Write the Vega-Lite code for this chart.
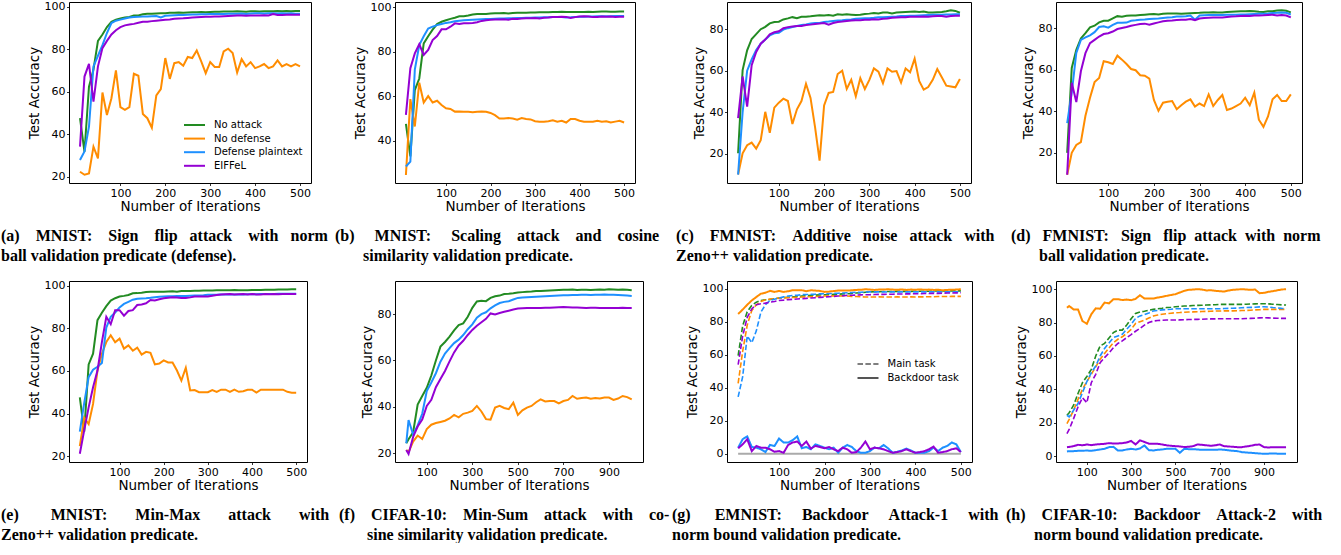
{
"$schema": "https://vega.github.io/schema/vega-lite/v6.json",
"background": "white",
"padding": {"left": 0, "top": 0, "right": 0, "bottom": 0},
"autosize": {"type": "pad"},
"columns": 4,
"spacing": {"row": 98, "column": 84},
"align": "none",
"bounds": "flush",
"datasets": {
"a": [
{"x":10,"No attack":47.6,"No defense":22.4,"Defense plaintext":27.9,"EIFFeL":34.2},
{"x":20,"No attack":31.8,"No defense":21.0,"Defense plaintext":32.0,"EIFFeL":67.2},
{"x":30,"No attack":62.5,"No defense":21.6,"Defense plaintext":43.6,"EIFFeL":73.2},
{"x":40,"No attack":70.5,"No defense":34.2,"Defense plaintext":72.0,"EIFFeL":55.4},
{"x":50,"No attack":84.0,"No defense":28.7,"Defense plaintext":77.0,"EIFFeL":72.0},
{"x":60,"No attack":87.0,"No defense":59.7,"Defense plaintext":82.0,"EIFFeL":80.6},
{"x":70,"No attack":90.5,"No defense":49.1,"Defense plaintext":87.7,"EIFFeL":84.0},
{"x":80,"No attack":93.0,"No defense":57.0,"Defense plaintext":92.4,"EIFFeL":87.0},
{"x":90,"No attack":94.0,"No defense":70.1,"Defense plaintext":93.5,"EIFFeL":89.0},
{"x":100,"No attack":94.5,"No defense":52.8,"Defense plaintext":94.0,"EIFFeL":90.5},
{"x":110,"No attack":95.0,"No defense":51.5,"Defense plaintext":94.5,"EIFFeL":91.3},
{"x":120,"No attack":95.3,"No defense":52.8,"Defense plaintext":95.0,"EIFFeL":91.7},
{"x":130,"No attack":96.0,"No defense":68.5,"Defense plaintext":95.2,"EIFFeL":92.0},
{"x":140,"No attack":96.0,"No defense":67.6,"Defense plaintext":95.3,"EIFFeL":92.5},
{"x":150,"No attack":96.5,"No defense":49.6,"Defense plaintext":95.5,"EIFFeL":93.0},
{"x":160,"No attack":96.8,"No defense":47.6,"Defense plaintext":95.5,"EIFFeL":93.0},
{"x":170,"No attack":96.8,"No defense":43.1,"Defense plaintext":95.6,"EIFFeL":93.3},
{"x":180,"No attack":96.9,"No defense":58.3,"Defense plaintext":95.7,"EIFFeL":93.5},
{"x":190,"No attack":97.0,"No defense":61.3,"Defense plaintext":95.0,"EIFFeL":93.7},
{"x":200,"No attack":97.0,"No defense":75.9,"Defense plaintext":95.8,"EIFFeL":93.9},
{"x":210,"No attack":97.2,"No defense":66.1,"Defense plaintext":96.0,"EIFFeL":94.1},
{"x":220,"No attack":97.2,"No defense":73.5,"Defense plaintext":96.1,"EIFFeL":94.4},
{"x":230,"No attack":97.3,"No defense":74.0,"Defense plaintext":96.2,"EIFFeL":94.5},
{"x":240,"No attack":97.2,"No defense":72.3,"Defense plaintext":96.2,"EIFFeL":94.6},
{"x":250,"No attack":97.4,"No defense":76.4,"Defense plaintext":96.3,"EIFFeL":94.8},
{"x":260,"No attack":97.5,"No defense":75.9,"Defense plaintext":96.4,"EIFFeL":95.0},
{"x":270,"No attack":97.5,"No defense":79.5,"Defense plaintext":96.4,"EIFFeL":95.1},
{"x":280,"No attack":97.6,"No defense":74.3,"Defense plaintext":96.5,"EIFFeL":95.2},
{"x":290,"No attack":97.5,"No defense":68.8,"Defense plaintext":96.5,"EIFFeL":95.3},
{"x":300,"No attack":97.6,"No defense":74.0,"Defense plaintext":96.6,"EIFFeL":95.4},
{"x":310,"No attack":97.7,"No defense":71.7,"Defense plaintext":96.6,"EIFFeL":95.5},
{"x":320,"No attack":97.7,"No defense":71.7,"Defense plaintext":96.7,"EIFFeL":95.5},
{"x":330,"No attack":97.8,"No defense":79.0,"Defense plaintext":96.7,"EIFFeL":95.6},
{"x":340,"No attack":97.8,"No defense":80.3,"Defense plaintext":96.8,"EIFFeL":95.7},
{"x":350,"No attack":97.8,"No defense":78.3,"Defense plaintext":96.8,"EIFFeL":95.8},
{"x":360,"No attack":97.9,"No defense":69.1,"Defense plaintext":96.8,"EIFFeL":95.9},
{"x":370,"No attack":97.8,"No defense":75.4,"Defense plaintext":96.9,"EIFFeL":95.9},
{"x":380,"No attack":97.7,"No defense":72.0,"Defense plaintext":96.7,"EIFFeL":95.8},
{"x":390,"No attack":97.9,"No defense":74.0,"Defense plaintext":96.9,"EIFFeL":96.0},
{"x":400,"No attack":97.9,"No defense":71.2,"Defense plaintext":97.0,"EIFFeL":96.0},
{"x":410,"No attack":97.8,"No defense":72.0,"Defense plaintext":97.0,"EIFFeL":96.0},
{"x":420,"No attack":98.0,"No defense":73.1,"Defense plaintext":96.9,"EIFFeL":96.1},
{"x":430,"No attack":97.9,"No defense":71.2,"Defense plaintext":97.0,"EIFFeL":96.0},
{"x":440,"No attack":98.0,"No defense":72.0,"Defense plaintext":97.0,"EIFFeL":96.6},
{"x":450,"No attack":98.1,"No defense":74.8,"Defense plaintext":96.9,"EIFFeL":96.2},
{"x":460,"No attack":98.0,"No defense":72.0,"Defense plaintext":97.0,"EIFFeL":96.2},
{"x":470,"No attack":98.1,"No defense":73.1,"Defense plaintext":96.9,"EIFFeL":96.3},
{"x":480,"No attack":98.0,"No defense":72.0,"Defense plaintext":97.0,"EIFFeL":96.3},
{"x":490,"No attack":98.1,"No defense":73.1,"Defense plaintext":96.8,"EIFFeL":96.3},
{"x":500,"No attack":98.1,"No defense":72.0,"Defense plaintext":96.8,"EIFFeL":96.3}
],
"b": [
{"x":10,"No attack":47.6,"No defense":24.6,"Defense plaintext":28.4,"EIFFeL":51.6},
{"x":20,"No attack":33.0,"No defense":58.7,"Defense plaintext":30.6,"EIFFeL":72.6},
{"x":30,"No attack":62.8,"No defense":46.4,"Defense plaintext":72.0,"EIFFeL":79.3},
{"x":40,"No attack":68.0,"No defense":66.1,"Defense plaintext":83.0,"EIFFeL":83.4},
{"x":50,"No attack":83.8,"No defense":57.2,"Defense plaintext":87.0,"EIFFeL":78.6},
{"x":60,"No attack":87.0,"No defense":60.1,"Defense plaintext":90.5,"EIFFeL":80.8},
{"x":70,"No attack":90.0,"No defense":57.2,"Defense plaintext":91.3,"EIFFeL":85.3},
{"x":80,"No attack":92.5,"No defense":58.0,"Defense plaintext":92.0,"EIFFeL":87.1},
{"x":90,"No attack":93.5,"No defense":56.1,"Defense plaintext":92.5,"EIFFeL":90.1},
{"x":100,"No attack":94.2,"No defense":54.6,"Defense plaintext":93.0,"EIFFeL":90.1},
{"x":110,"No attack":94.8,"No defense":54.3,"Defense plaintext":93.3,"EIFFeL":91.3},
{"x":120,"No attack":95.3,"No defense":53.1,"Defense plaintext":93.7,"EIFFeL":92.8},
{"x":130,"No attack":96.0,"No defense":53.2,"Defense plaintext":94.0,"EIFFeL":92.5},
{"x":140,"No attack":96.0,"No defense":53.0,"Defense plaintext":94.2,"EIFFeL":92.8},
{"x":150,"No attack":96.3,"No defense":53.0,"Defense plaintext":94.3,"EIFFeL":92.8},
{"x":160,"No attack":96.8,"No defense":52.8,"Defense plaintext":94.4,"EIFFeL":93.0},
{"x":170,"No attack":97.0,"No defense":53.0,"Defense plaintext":94.5,"EIFFeL":93.3},
{"x":180,"No attack":97.0,"No defense":53.2,"Defense plaintext":94.6,"EIFFeL":93.9},
{"x":190,"No attack":97.0,"No defense":53.0,"Defense plaintext":94.7,"EIFFeL":94.2},
{"x":200,"No attack":97.2,"No defense":52.5,"Defense plaintext":94.8,"EIFFeL":94.4},
{"x":210,"No attack":97.3,"No defense":51.5,"Defense plaintext":94.9,"EIFFeL":94.5},
{"x":220,"No attack":97.3,"No defense":50.0,"Defense plaintext":95.0,"EIFFeL":94.5},
{"x":230,"No attack":97.4,"No defense":50.0,"Defense plaintext":95.0,"EIFFeL":94.6},
{"x":240,"No attack":97.2,"No defense":50.2,"Defense plaintext":95.1,"EIFFeL":94.4},
{"x":250,"No attack":97.5,"No defense":50.0,"Defense plaintext":95.1,"EIFFeL":94.9},
{"x":260,"No attack":97.6,"No defense":49.5,"Defense plaintext":95.2,"EIFFeL":94.8},
{"x":270,"No attack":97.6,"No defense":50.2,"Defense plaintext":95.2,"EIFFeL":95.0},
{"x":280,"No attack":97.6,"No defense":49.8,"Defense plaintext":95.3,"EIFFeL":95.1},
{"x":290,"No attack":97.7,"No defense":49.6,"Defense plaintext":95.3,"EIFFeL":95.1},
{"x":300,"No attack":97.7,"No defense":48.8,"Defense plaintext":95.4,"EIFFeL":95.2},
{"x":310,"No attack":97.8,"No defense":48.6,"Defense plaintext":95.4,"EIFFeL":95.0},
{"x":320,"No attack":97.8,"No defense":48.6,"Defense plaintext":95.5,"EIFFeL":95.3},
{"x":330,"No attack":97.8,"No defense":48.8,"Defense plaintext":95.5,"EIFFeL":95.4},
{"x":340,"No attack":97.9,"No defense":49.2,"Defense plaintext":95.6,"EIFFeL":95.6},
{"x":350,"No attack":97.9,"No defense":48.6,"Defense plaintext":95.6,"EIFFeL":95.7},
{"x":360,"No attack":98.0,"No defense":49.0,"Defense plaintext":95.7,"EIFFeL":95.8},
{"x":370,"No attack":97.9,"No defense":48.2,"Defense plaintext":95.4,"EIFFeL":95.7},
{"x":380,"No attack":97.9,"No defense":49.8,"Defense plaintext":95.5,"EIFFeL":95.2},
{"x":390,"No attack":97.9,"No defense":49.8,"Defense plaintext":95.7,"EIFFeL":95.6},
{"x":400,"No attack":97.9,"No defense":49.0,"Defense plaintext":95.8,"EIFFeL":95.9},
{"x":410,"No attack":97.9,"No defense":48.6,"Defense plaintext":95.8,"EIFFeL":96.0},
{"x":420,"No attack":98.0,"No defense":48.6,"Defense plaintext":95.9,"EIFFeL":95.9},
{"x":430,"No attack":97.9,"No defense":48.6,"Defense plaintext":95.9,"EIFFeL":95.6},
{"x":440,"No attack":98.0,"No defense":49.0,"Defense plaintext":96.0,"EIFFeL":95.7},
{"x":450,"No attack":98.1,"No defense":48.6,"Defense plaintext":96.0,"EIFFeL":95.9},
{"x":460,"No attack":98.1,"No defense":48.8,"Defense plaintext":96.0,"EIFFeL":95.8},
{"x":470,"No attack":98.0,"No defense":48.2,"Defense plaintext":96.0,"EIFFeL":95.9},
{"x":480,"No attack":98.0,"No defense":48.6,"Defense plaintext":96.1,"EIFFeL":95.7},
{"x":490,"No attack":98.1,"No defense":49.0,"Defense plaintext":96.1,"EIFFeL":95.8},
{"x":500,"No attack":98.1,"No defense":48.2,"Defense plaintext":96.1,"EIFFeL":95.8}
],
"c": [
{"x":10,"No attack":20.2,"No defense":10.0,"Defense plaintext":9.9,"EIFFeL":37.2},
{"x":20,"No attack":60.3,"No defense":20.2,"Defense plaintext":40.0,"EIFFeL":57.2},
{"x":30,"No attack":69.8,"No defense":24.1,"Defense plaintext":60.0,"EIFFeL":42.7},
{"x":40,"No attack":75.3,"No defense":25.4,"Defense plaintext":65.5,"EIFFeL":62.7},
{"x":50,"No attack":77.6,"No defense":22.5,"Defense plaintext":70.0,"EIFFeL":69.0},
{"x":60,"No attack":80.0,"No defense":26.5,"Defense plaintext":73.0,"EIFFeL":73.0},
{"x":70,"No attack":81.1,"No defense":40.2,"Defense plaintext":75.0,"EIFFeL":75.0},
{"x":80,"No attack":82.8,"No defense":30.1,"Defense plaintext":77.0,"EIFFeL":77.5},
{"x":90,"No attack":83.5,"No defense":42.2,"Defense plaintext":78.0,"EIFFeL":78.5},
{"x":100,"No attack":83.6,"No defense":44.6,"Defense plaintext":78.3,"EIFFeL":79.0},
{"x":110,"No attack":84.7,"No defense":46.5,"Defense plaintext":79.8,"EIFFeL":80.5},
{"x":120,"No attack":85.2,"No defense":45.4,"Defense plaintext":80.5,"EIFFeL":81.0},
{"x":130,"No attack":85.8,"No defense":34.3,"Defense plaintext":81.0,"EIFFeL":81.3},
{"x":140,"No attack":85.3,"No defense":41.4,"Defense plaintext":81.5,"EIFFeL":81.5},
{"x":150,"No attack":86.0,"No defense":45.4,"Defense plaintext":82.0,"EIFFeL":81.5},
{"x":160,"No attack":86.0,"No defense":53.7,"Defense plaintext":82.3,"EIFFeL":82.0},
{"x":170,"No attack":86.2,"No defense":46.9,"Defense plaintext":82.7,"EIFFeL":82.2},
{"x":180,"No attack":86.5,"No defense":32.8,"Defense plaintext":83.0,"EIFFeL":82.5},
{"x":190,"No attack":86.7,"No defense":16.7,"Defense plaintext":83.0,"EIFFeL":82.7},
{"x":200,"No attack":86.6,"No defense":43.3,"Defense plaintext":83.5,"EIFFeL":83.0},
{"x":210,"No attack":86.8,"No defense":49.3,"Defense plaintext":83.7,"EIFFeL":82.2},
{"x":220,"No attack":86.5,"No defense":49.8,"Defense plaintext":84.0,"EIFFeL":83.0},
{"x":230,"No attack":87.2,"No defense":58.4,"Defense plaintext":84.2,"EIFFeL":83.5},
{"x":240,"No attack":87.0,"No defense":60.0,"Defense plaintext":84.3,"EIFFeL":83.7},
{"x":250,"No attack":87.2,"No defense":51.2,"Defense plaintext":84.5,"EIFFeL":84.0},
{"x":260,"No attack":87.0,"No defense":55.6,"Defense plaintext":84.7,"EIFFeL":84.2},
{"x":270,"No attack":86.8,"No defense":47.7,"Defense plaintext":85.0,"EIFFeL":84.3},
{"x":280,"No attack":87.0,"No defense":56.4,"Defense plaintext":85.2,"EIFFeL":84.3},
{"x":290,"No attack":87.3,"No defense":51.2,"Defense plaintext":85.3,"EIFFeL":84.5},
{"x":300,"No attack":87.5,"No defense":55.6,"Defense plaintext":85.3,"EIFFeL":84.5},
{"x":310,"No attack":87.8,"No defense":61.1,"Defense plaintext":85.5,"EIFFeL":84.8},
{"x":320,"No attack":87.6,"No defense":59.5,"Defense plaintext":85.8,"EIFFeL":84.7},
{"x":330,"No attack":88.0,"No defense":54.0,"Defense plaintext":85.8,"EIFFeL":85.0},
{"x":340,"No attack":88.0,"No defense":61.1,"Defense plaintext":85.9,"EIFFeL":85.2},
{"x":350,"No attack":87.6,"No defense":59.5,"Defense plaintext":86.0,"EIFFeL":85.5},
{"x":360,"No attack":88.0,"No defense":59.8,"Defense plaintext":86.1,"EIFFeL":85.6},
{"x":370,"No attack":88.2,"No defense":54.3,"Defense plaintext":86.3,"EIFFeL":85.7},
{"x":380,"No attack":88.3,"No defense":61.1,"Defense plaintext":86.4,"EIFFeL":85.8},
{"x":390,"No attack":88.4,"No defense":59.2,"Defense plaintext":86.5,"EIFFeL":86.0},
{"x":400,"No attack":88.5,"No defense":65.8,"Defense plaintext":86.5,"EIFFeL":86.0},
{"x":410,"No attack":88.3,"No defense":55.1,"Defense plaintext":86.6,"EIFFeL":86.0},
{"x":420,"No attack":88.5,"No defense":50.9,"Defense plaintext":86.7,"EIFFeL":86.1},
{"x":430,"No attack":88.0,"No defense":52.1,"Defense plaintext":86.8,"EIFFeL":86.0},
{"x":440,"No attack":88.0,"No defense":55.6,"Defense plaintext":86.9,"EIFFeL":86.2},
{"x":450,"No attack":88.2,"No defense":60.8,"Defense plaintext":87.0,"EIFFeL":86.3},
{"x":460,"No attack":88.3,"No defense":56.9,"Defense plaintext":87.0,"EIFFeL":86.4},
{"x":470,"No attack":88.6,"No defense":52.8,"Defense plaintext":87.1,"EIFFeL":86.0},
{"x":480,"No attack":89.1,"No defense":52.4,"Defense plaintext":87.1,"EIFFeL":86.3},
{"x":490,"No attack":88.8,"No defense":52.0,"Defense plaintext":87.2,"EIFFeL":86.5},
{"x":500,"No attack":87.9,"No defense":56.0,"Defense plaintext":87.2,"EIFFeL":86.5}
],
"d": [
{"x":10,"No attack":20.0,"No defense":9.5,"Defense plaintext":34.3,"EIFFeL":9.5},
{"x":20,"No attack":60.8,"No defense":20.0,"Defense plaintext":49.0,"EIFFeL":53.7},
{"x":30,"No attack":69.5,"No defense":23.8,"Defense plaintext":68.0,"EIFFeL":44.4},
{"x":40,"No attack":75.0,"No defense":25.1,"Defense plaintext":74.3,"EIFFeL":59.2},
{"x":50,"No attack":77.5,"No defense":37.8,"Defense plaintext":75.5,"EIFFeL":67.9},
{"x":60,"No attack":80.3,"No defense":46.5,"Defense plaintext":76.5,"EIFFeL":72.7},
{"x":70,"No attack":81.1,"No defense":54.0,"Defense plaintext":78.0,"EIFFeL":74.3},
{"x":80,"No attack":82.7,"No defense":56.0,"Defense plaintext":80.5,"EIFFeL":75.9},
{"x":90,"No attack":83.5,"No defense":64.0,"Defense plaintext":80.8,"EIFFeL":77.1},
{"x":100,"No attack":83.5,"No defense":63.5,"Defense plaintext":80.2,"EIFFeL":77.5},
{"x":110,"No attack":84.6,"No defense":62.7,"Defense plaintext":81.5,"EIFFeL":78.3},
{"x":120,"No attack":85.7,"No defense":66.7,"Defense plaintext":82.5,"EIFFeL":79.5},
{"x":130,"No attack":85.4,"No defense":64.8,"Defense plaintext":82.5,"EIFFeL":80.0},
{"x":140,"No attack":85.9,"No defense":62.7,"Defense plaintext":82.6,"EIFFeL":80.5},
{"x":150,"No attack":86.0,"No defense":60.3,"Defense plaintext":83.5,"EIFFeL":81.1},
{"x":160,"No attack":86.0,"No defense":59.7,"Defense plaintext":83.7,"EIFFeL":81.5},
{"x":170,"No attack":86.2,"No defense":57.3,"Defense plaintext":84.0,"EIFFeL":81.9},
{"x":180,"No attack":86.4,"No defense":57.1,"Defense plaintext":84.1,"EIFFeL":82.1},
{"x":190,"No attack":86.6,"No defense":55.7,"Defense plaintext":84.3,"EIFFeL":81.6},
{"x":200,"No attack":86.7,"No defense":45.4,"Defense plaintext":84.5,"EIFFeL":82.2},
{"x":210,"No attack":86.5,"No defense":40.2,"Defense plaintext":84.6,"EIFFeL":82.7},
{"x":220,"No attack":86.9,"No defense":44.1,"Defense plaintext":84.8,"EIFFeL":83.2},
{"x":230,"No attack":87.0,"No defense":44.6,"Defense plaintext":85.0,"EIFFeL":83.5},
{"x":240,"No attack":87.0,"No defense":44.9,"Defense plaintext":85.2,"EIFFeL":83.6},
{"x":250,"No attack":87.0,"No defense":41.0,"Defense plaintext":85.5,"EIFFeL":83.8},
{"x":260,"No attack":86.9,"No defense":42.9,"Defense plaintext":85.5,"EIFFeL":84.0},
{"x":270,"No attack":87.0,"No defense":44.6,"Defense plaintext":85.7,"EIFFeL":84.0},
{"x":280,"No attack":87.1,"No defense":45.7,"Defense plaintext":86.0,"EIFFeL":84.3},
{"x":290,"No attack":87.2,"No defense":42.2,"Defense plaintext":84.0,"EIFFeL":83.8},
{"x":300,"No attack":87.3,"No defense":43.7,"Defense plaintext":86.0,"EIFFeL":84.6},
{"x":310,"No attack":87.5,"No defense":42.5,"Defense plaintext":86.1,"EIFFeL":84.8},
{"x":320,"No attack":87.4,"No defense":48.1,"Defense plaintext":86.2,"EIFFeL":84.9},
{"x":330,"No attack":87.6,"No defense":42.5,"Defense plaintext":86.2,"EIFFeL":85.0},
{"x":340,"No attack":87.5,"No defense":45.4,"Defense plaintext":86.3,"EIFFeL":85.0},
{"x":350,"No attack":87.5,"No defense":47.8,"Defense plaintext":86.3,"EIFFeL":85.1},
{"x":360,"No attack":87.7,"No defense":40.6,"Defense plaintext":86.4,"EIFFeL":85.3},
{"x":370,"No attack":87.8,"No defense":41.3,"Defense plaintext":86.4,"EIFFeL":85.5},
{"x":380,"No attack":87.9,"No defense":42.5,"Defense plaintext":86.4,"EIFFeL":85.6},
{"x":390,"No attack":88.0,"No defense":43.7,"Defense plaintext":86.5,"EIFFeL":85.8},
{"x":400,"No attack":88.0,"No defense":46.5,"Defense plaintext":86.5,"EIFFeL":85.9},
{"x":410,"No attack":88.2,"No defense":42.9,"Defense plaintext":86.6,"EIFFeL":85.8},
{"x":420,"No attack":88.1,"No defense":48.9,"Defense plaintext":86.7,"EIFFeL":86.0},
{"x":430,"No attack":87.8,"No defense":35.9,"Defense plaintext":86.8,"EIFFeL":86.0},
{"x":440,"No attack":87.7,"No defense":32.5,"Defense plaintext":86.9,"EIFFeL":86.1},
{"x":450,"No attack":88.0,"No defense":37.5,"Defense plaintext":87.0,"EIFFeL":86.3},
{"x":460,"No attack":88.1,"No defense":45.7,"Defense plaintext":87.2,"EIFFeL":86.4},
{"x":470,"No attack":88.4,"No defense":47.8,"Defense plaintext":87.3,"EIFFeL":86.0},
{"x":480,"No attack":88.5,"No defense":44.9,"Defense plaintext":87.5,"EIFFeL":86.3},
{"x":490,"No attack":88.3,"No defense":44.9,"Defense plaintext":87.3,"EIFFeL":86.0},
{"x":500,"No attack":87.5,"No defense":48.1,"Defense plaintext":86.5,"EIFFeL":85.1}
],
"e": [
{"x":10,"No attack":47.6,"No defense":24.7,"Defense plaintext":31.5,"EIFFeL":21.1},
{"x":20,"No attack":31.5,"No defense":38.0,"Defense plaintext":45.0,"EIFFeL":32.2},
{"x":30,"No attack":63.1,"No defense":35.0,"Defense plaintext":57.1,"EIFFeL":42.9},
{"x":40,"No attack":68.1,"No defense":44.5,"Defense plaintext":60.6,"EIFFeL":52.3},
{"x":50,"No attack":83.9,"No defense":60.2,"Defense plaintext":62.0,"EIFFeL":60.2},
{"x":60,"No attack":87.4,"No defense":68.1,"Defense plaintext":63.7,"EIFFeL":73.6},
{"x":70,"No attack":90.5,"No defense":73.6,"Defense plaintext":80.4,"EIFFeL":85.5},
{"x":80,"No attack":93.1,"No defense":76.8,"Defense plaintext":85.5,"EIFFeL":82.0},
{"x":90,"No attack":94.2,"No defense":73.5,"Defense plaintext":87.5,"EIFFeL":88.6},
{"x":100,"No attack":95.0,"No defense":75.2,"Defense plaintext":89.9,"EIFFeL":88.6},
{"x":110,"No attack":95.3,"No defense":70.5,"Defense plaintext":91.5,"EIFFeL":86.0},
{"x":120,"No attack":95.7,"No defense":72.0,"Defense plaintext":92.5,"EIFFeL":88.2},
{"x":130,"No attack":96.5,"No defense":69.5,"Defense plaintext":93.5,"EIFFeL":88.6},
{"x":140,"No attack":96.6,"No defense":71.0,"Defense plaintext":94.0,"EIFFeL":91.0},
{"x":150,"No attack":96.8,"No defense":67.7,"Defense plaintext":94.1,"EIFFeL":91.3},
{"x":160,"No attack":97.1,"No defense":69.0,"Defense plaintext":94.2,"EIFFeL":91.8},
{"x":170,"No attack":97.3,"No defense":68.5,"Defense plaintext":94.4,"EIFFeL":93.4},
{"x":180,"No attack":97.2,"No defense":63.1,"Defense plaintext":94.7,"EIFFeL":93.1},
{"x":190,"No attack":97.3,"No defense":63.5,"Defense plaintext":94.9,"EIFFeL":93.7},
{"x":200,"No attack":97.3,"No defense":65.0,"Defense plaintext":95.0,"EIFFeL":94.2},
{"x":210,"No attack":97.4,"No defense":64.0,"Defense plaintext":95.1,"EIFFeL":94.4},
{"x":220,"No attack":97.5,"No defense":64.0,"Defense plaintext":95.1,"EIFFeL":94.6},
{"x":230,"No attack":97.3,"No defense":60.2,"Defense plaintext":95.2,"EIFFeL":94.5},
{"x":240,"No attack":97.6,"No defense":55.5,"Defense plaintext":95.2,"EIFFeL":94.3},
{"x":250,"No attack":97.6,"No defense":61.5,"Defense plaintext":95.3,"EIFFeL":94.3},
{"x":260,"No attack":97.6,"No defense":50.8,"Defense plaintext":95.4,"EIFFeL":94.6},
{"x":270,"No attack":97.7,"No defense":51.0,"Defense plaintext":95.5,"EIFFeL":95.0},
{"x":280,"No attack":97.7,"No defense":50.0,"Defense plaintext":95.5,"EIFFeL":95.0},
{"x":290,"No attack":97.8,"No defense":50.0,"Defense plaintext":95.6,"EIFFeL":95.0},
{"x":300,"No attack":97.8,"No defense":50.0,"Defense plaintext":95.8,"EIFFeL":95.0},
{"x":310,"No attack":97.8,"No defense":51.0,"Defense plaintext":95.8,"EIFFeL":95.4},
{"x":320,"No attack":97.9,"No defense":50.2,"Defense plaintext":95.8,"EIFFeL":95.7},
{"x":330,"No attack":97.9,"No defense":51.2,"Defense plaintext":95.9,"EIFFeL":96.0},
{"x":340,"No attack":98.0,"No defense":51.2,"Defense plaintext":95.9,"EIFFeL":96.1},
{"x":350,"No attack":98.0,"No defense":50.2,"Defense plaintext":95.9,"EIFFeL":96.2},
{"x":360,"No attack":98.1,"No defense":51.2,"Defense plaintext":96.0,"EIFFeL":96.0},
{"x":370,"No attack":98.0,"No defense":50.2,"Defense plaintext":96.0,"EIFFeL":96.1},
{"x":380,"No attack":98.0,"No defense":50.5,"Defense plaintext":96.0,"EIFFeL":96.2},
{"x":390,"No attack":98.0,"No defense":51.2,"Defense plaintext":96.1,"EIFFeL":96.0},
{"x":400,"No attack":98.1,"No defense":51.2,"Defense plaintext":96.1,"EIFFeL":96.2},
{"x":410,"No attack":98.1,"No defense":49.8,"Defense plaintext":96.1,"EIFFeL":96.0},
{"x":420,"No attack":98.1,"No defense":51.2,"Defense plaintext":96.2,"EIFFeL":95.9},
{"x":430,"No attack":98.2,"No defense":51.2,"Defense plaintext":96.2,"EIFFeL":96.2},
{"x":440,"No attack":98.2,"No defense":51.2,"Defense plaintext":96.2,"EIFFeL":96.1},
{"x":450,"No attack":98.2,"No defense":51.2,"Defense plaintext":96.2,"EIFFeL":96.2},
{"x":460,"No attack":98.3,"No defense":51.2,"Defense plaintext":96.3,"EIFFeL":96.1},
{"x":470,"No attack":98.3,"No defense":51.2,"Defense plaintext":96.3,"EIFFeL":96.2},
{"x":480,"No attack":98.3,"No defense":50.2,"Defense plaintext":96.3,"EIFFeL":96.2},
{"x":490,"No attack":98.4,"No defense":49.8,"Defense plaintext":96.3,"EIFFeL":96.2},
{"x":500,"No attack":98.4,"No defense":49.8,"Defense plaintext":96.3,"EIFFeL":96.2}
],
"f": [
{"x":10,"No attack":24.3,"No defense":21.4,"Defense plaintext":24.3,"EIFFeL":21.4},
{"x":20,"No attack":26.0,"No defense":20.5,"Defense plaintext":34.3,"EIFFeL":19.7},
{"x":40,"No attack":29.0,"No defense":25.0,"Defense plaintext":28.0,"EIFFeL":27.0},
{"x":60,"No attack":41.0,"No defense":27.6,"Defense plaintext":32.0,"EIFFeL":31.5},
{"x":80,"No attack":44.7,"No defense":26.1,"Defense plaintext":37.0,"EIFFeL":34.5},
{"x":100,"No attack":48.2,"No defense":30.4,"Defense plaintext":46.8,"EIFFeL":40.4},
{"x":120,"No attack":53.5,"No defense":32.3,"Defense plaintext":50.5,"EIFFeL":43.0},
{"x":140,"No attack":60.0,"No defense":33.0,"Defense plaintext":54.5,"EIFFeL":48.5},
{"x":160,"No attack":66.0,"No defense":33.5,"Defense plaintext":59.5,"EIFFeL":52.0},
{"x":180,"No attack":68.0,"No defense":34.0,"Defense plaintext":63.0,"EIFFeL":55.5},
{"x":200,"No attack":70.3,"No defense":35.0,"Defense plaintext":65.3,"EIFFeL":59.6},
{"x":220,"No attack":73.0,"No defense":36.5,"Defense plaintext":67.5,"EIFFeL":63.5},
{"x":240,"No attack":75.3,"No defense":35.5,"Defense plaintext":69.0,"EIFFeL":66.5},
{"x":260,"No attack":76.0,"No defense":37.0,"Defense plaintext":71.0,"EIFFeL":68.5},
{"x":280,"No attack":78.9,"No defense":37.5,"Defense plaintext":73.5,"EIFFeL":71.0},
{"x":300,"No attack":82.7,"No defense":38.2,"Defense plaintext":75.6,"EIFFeL":73.2},
{"x":320,"No attack":85.5,"No defense":40.4,"Defense plaintext":78.5,"EIFFeL":75.0},
{"x":340,"No attack":85.8,"No defense":38.0,"Defense plaintext":80.0,"EIFFeL":76.5},
{"x":360,"No attack":85.6,"No defense":34.7,"Defense plaintext":80.8,"EIFFeL":78.0},
{"x":380,"No attack":87.0,"No defense":34.5,"Defense plaintext":82.5,"EIFFeL":80.3},
{"x":400,"No attack":87.7,"No defense":39.7,"Defense plaintext":83.8,"EIFFeL":79.9},
{"x":420,"No attack":88.0,"No defense":40.4,"Defense plaintext":84.8,"EIFFeL":80.5},
{"x":440,"No attack":88.7,"No defense":39.5,"Defense plaintext":85.3,"EIFFeL":81.0},
{"x":460,"No attack":88.8,"No defense":39.0,"Defense plaintext":85.6,"EIFFeL":81.5},
{"x":480,"No attack":89.0,"No defense":41.8,"Defense plaintext":86.3,"EIFFeL":82.0},
{"x":500,"No attack":89.3,"No defense":36.5,"Defense plaintext":87.0,"EIFFeL":82.4},
{"x":520,"No attack":89.5,"No defense":38.5,"Defense plaintext":87.2,"EIFFeL":82.5},
{"x":540,"No attack":89.7,"No defense":39.7,"Defense plaintext":87.3,"EIFFeL":82.6},
{"x":560,"No attack":89.8,"No defense":40.4,"Defense plaintext":87.4,"EIFFeL":82.6},
{"x":580,"No attack":90.0,"No defense":42.0,"Defense plaintext":87.5,"EIFFeL":82.7},
{"x":600,"No attack":90.0,"No defense":43.2,"Defense plaintext":87.6,"EIFFeL":82.7},
{"x":620,"No attack":90.1,"No defense":42.3,"Defense plaintext":87.7,"EIFFeL":82.8},
{"x":640,"No attack":90.2,"No defense":42.5,"Defense plaintext":87.8,"EIFFeL":82.8},
{"x":660,"No attack":90.3,"No defense":42.5,"Defense plaintext":87.9,"EIFFeL":82.9},
{"x":680,"No attack":90.4,"No defense":41.5,"Defense plaintext":88.0,"EIFFeL":83.0},
{"x":700,"No attack":90.5,"No defense":42.5,"Defense plaintext":88.1,"EIFFeL":83.1},
{"x":720,"No attack":90.5,"No defense":43.0,"Defense plaintext":88.2,"EIFFeL":83.0},
{"x":740,"No attack":90.6,"No defense":44.7,"Defense plaintext":88.3,"EIFFeL":82.9},
{"x":760,"No attack":90.4,"No defense":43.5,"Defense plaintext":88.3,"EIFFeL":82.9},
{"x":780,"No attack":90.5,"No defense":43.8,"Defense plaintext":88.4,"EIFFeL":82.8},
{"x":800,"No attack":90.5,"No defense":44.0,"Defense plaintext":88.4,"EIFFeL":82.7},
{"x":820,"No attack":90.4,"No defense":43.5,"Defense plaintext":88.3,"EIFFeL":82.8},
{"x":840,"No attack":90.5,"No defense":43.8,"Defense plaintext":88.4,"EIFFeL":82.8},
{"x":860,"No attack":90.6,"No defense":43.6,"Defense plaintext":88.4,"EIFFeL":82.7},
{"x":880,"No attack":90.5,"No defense":44.0,"Defense plaintext":88.5,"EIFFeL":82.7},
{"x":900,"No attack":90.7,"No defense":44.0,"Defense plaintext":88.4,"EIFFeL":82.7},
{"x":920,"No attack":90.6,"No defense":43.0,"Defense plaintext":88.4,"EIFFeL":82.6},
{"x":940,"No attack":90.5,"No defense":43.6,"Defense plaintext":88.3,"EIFFeL":82.7},
{"x":960,"No attack":90.6,"No defense":44.7,"Defense plaintext":88.2,"EIFFeL":82.8},
{"x":980,"No attack":90.5,"No defense":44.2,"Defense plaintext":88.0,"EIFFeL":82.7},
{"x":1000,"No attack":90.3,"No defense":43.2,"Defense plaintext":87.8,"EIFFeL":82.7}
],
"g": [
{"x":10,"t":"Main task","No attack":59.4,"No defense":42.6,"Defense plaintext":34.4,"EIFFeL":53.9},
{"x":20,"t":"Main task","No attack":77.5,"No defense":62.1,"Defense plaintext":46.7,"EIFFeL":71.3},
{"x":30,"t":"Main task","No attack":86.0,"No defense":77.9,"Defense plaintext":71.3,"EIFFeL":82.6},
{"x":40,"t":"Main task","No attack":89.8,"No defense":86.7,"Defense plaintext":67.2,"EIFFeL":87.7},
{"x":50,"t":"Main task","No attack":91.8,"No defense":90.2,"Defense plaintext":74.4,"EIFFeL":90.2},
{"x":60,"t":"Main task","No attack":92.8,"No defense":92.2,"Defense plaintext":85.7,"EIFFeL":90.8},
{"x":70,"t":"Main task","No attack":93.2,"No defense":93.2,"Defense plaintext":90.2,"EIFFeL":91.2},
{"x":80,"t":"Main task","No attack":93.4,"No defense":93.6,"Defense plaintext":92.8,"EIFFeL":91.8},
{"x":90,"t":"Main task","No attack":93.8,"No defense":93.9,"Defense plaintext":93.6,"EIFFeL":92.2},
{"x":100,"t":"Main task","No attack":94.3,"No defense":94.3,"Defense plaintext":94.3,"EIFFeL":92.8},
{"x":110,"t":"Main task","No attack":94.5,"No defense":94.4,"Defense plaintext":95.0,"EIFFeL":93.0},
{"x":120,"t":"Main task","No attack":94.8,"No defense":94.5,"Defense plaintext":95.5,"EIFFeL":93.3},
{"x":130,"t":"Main task","No attack":95.0,"No defense":94.6,"Defense plaintext":95.8,"EIFFeL":93.5},
{"x":140,"t":"Main task","No attack":95.2,"No defense":94.7,"Defense plaintext":96.0,"EIFFeL":93.7},
{"x":150,"t":"Main task","No attack":95.5,"No defense":94.9,"Defense plaintext":96.3,"EIFFeL":93.9},
{"x":160,"t":"Main task","No attack":95.7,"No defense":95.0,"Defense plaintext":96.4,"EIFFeL":94.1},
{"x":170,"t":"Main task","No attack":95.9,"No defense":95.1,"Defense plaintext":96.5,"EIFFeL":94.3},
{"x":180,"t":"Main task","No attack":96.0,"No defense":95.2,"Defense plaintext":96.6,"EIFFeL":94.5},
{"x":190,"t":"Main task","No attack":96.2,"No defense":95.3,"Defense plaintext":96.8,"EIFFeL":94.7},
{"x":200,"t":"Main task","No attack":96.3,"No defense":95.5,"Defense plaintext":96.9,"EIFFeL":94.9},
{"x":210,"t":"Main task","No attack":96.4,"No defense":95.6,"Defense plaintext":97.0,"EIFFeL":95.1},
{"x":220,"t":"Main task","No attack":96.5,"No defense":95.6,"Defense plaintext":97.1,"EIFFeL":95.3},
{"x":230,"t":"Main task","No attack":96.6,"No defense":95.6,"Defense plaintext":97.2,"EIFFeL":95.5},
{"x":240,"t":"Main task","No attack":96.8,"No defense":95.5,"Defense plaintext":97.3,"EIFFeL":95.7},
{"x":250,"t":"Main task","No attack":96.9,"No defense":95.5,"Defense plaintext":97.5,"EIFFeL":95.9},
{"x":260,"t":"Main task","No attack":97.1,"No defense":95.3,"Defense plaintext":97.6,"EIFFeL":96.0},
{"x":270,"t":"Main task","No attack":97.3,"No defense":95.2,"Defense plaintext":97.7,"EIFFeL":96.1},
{"x":280,"t":"Main task","No attack":97.5,"No defense":95.0,"Defense plaintext":97.8,"EIFFeL":96.2},
{"x":290,"t":"Main task","No attack":97.8,"No defense":94.9,"Defense plaintext":97.9,"EIFFeL":96.3},
{"x":300,"t":"Main task","No attack":98.0,"No defense":94.9,"Defense plaintext":98.0,"EIFFeL":96.3},
{"x":310,"t":"Main task","No attack":98.1,"No defense":94.9,"Defense plaintext":98.0,"EIFFeL":96.4},
{"x":320,"t":"Main task","No attack":98.1,"No defense":95.0,"Defense plaintext":98.0,"EIFFeL":96.5},
{"x":330,"t":"Main task","No attack":98.2,"No defense":94.9,"Defense plaintext":98.0,"EIFFeL":96.5},
{"x":340,"t":"Main task","No attack":98.2,"No defense":94.9,"Defense plaintext":97.9,"EIFFeL":96.6},
{"x":350,"t":"Main task","No attack":98.2,"No defense":94.9,"Defense plaintext":98.0,"EIFFeL":96.6},
{"x":360,"t":"Main task","No attack":98.3,"No defense":95.0,"Defense plaintext":98.0,"EIFFeL":96.7},
{"x":370,"t":"Main task","No attack":98.3,"No defense":94.9,"Defense plaintext":98.0,"EIFFeL":96.7},
{"x":380,"t":"Main task","No attack":98.3,"No defense":94.9,"Defense plaintext":98.0,"EIFFeL":96.8},
{"x":390,"t":"Main task","No attack":98.3,"No defense":95.0,"Defense plaintext":98.0,"EIFFeL":96.8},
{"x":400,"t":"Main task","No attack":98.4,"No defense":94.9,"Defense plaintext":98.0,"EIFFeL":96.9},
{"x":410,"t":"Main task","No attack":98.4,"No defense":95.0,"Defense plaintext":98.0,"EIFFeL":96.9},
{"x":420,"t":"Main task","No attack":98.4,"No defense":95.0,"Defense plaintext":98.0,"EIFFeL":97.0},
{"x":430,"t":"Main task","No attack":98.4,"No defense":95.1,"Defense plaintext":98.0,"EIFFeL":97.0},
{"x":440,"t":"Main task","No attack":98.5,"No defense":95.1,"Defense plaintext":98.0,"EIFFeL":97.1},
{"x":450,"t":"Main task","No attack":98.5,"No defense":95.2,"Defense plaintext":98.0,"EIFFeL":97.1},
{"x":460,"t":"Main task","No attack":98.5,"No defense":95.2,"Defense plaintext":98.0,"EIFFeL":97.2},
{"x":470,"t":"Main task","No attack":98.5,"No defense":95.2,"Defense plaintext":98.0,"EIFFeL":97.3},
{"x":480,"t":"Main task","No attack":98.6,"No defense":95.3,"Defense plaintext":98.0,"EIFFeL":97.3},
{"x":490,"t":"Main task","No attack":98.6,"No defense":95.3,"Defense plaintext":98.0,"EIFFeL":97.4},
{"x":500,"t":"Main task","No attack":98.6,"No defense":95.3,"Defense plaintext":98.0,"EIFFeL":97.5},
{"x":10,"t":"Backdoor task","No attack":0,"No defense":84.6,"Defense plaintext":3.7,"EIFFeL":3.3},
{"x":20,"t":"Backdoor task","No attack":0,"No defense":87.3,"Defense plaintext":8.8,"EIFFeL":5.7},
{"x":30,"t":"Backdoor task","No attack":0,"No defense":90.2,"Defense plaintext":10.5,"EIFFeL":8.8},
{"x":40,"t":"Backdoor task","No attack":0,"No defense":92.8,"Defense plaintext":4.1,"EIFFeL":1.6},
{"x":50,"t":"Backdoor task","No attack":0,"No defense":94.9,"Defense plaintext":3.7,"EIFFeL":4.7},
{"x":60,"t":"Backdoor task","No attack":0,"No defense":96.9,"Defense plaintext":2.7,"EIFFeL":3.7},
{"x":70,"t":"Backdoor task","No attack":0,"No defense":97.5,"Defense plaintext":1.0,"EIFFeL":3.7},
{"x":80,"t":"Backdoor task","No attack":0,"No defense":98.6,"Defense plaintext":5.3,"EIFFeL":2.7},
{"x":90,"t":"Backdoor task","No attack":0,"No defense":98.0,"Defense plaintext":4.7,"EIFFeL":1.2},
{"x":100,"t":"Backdoor task","No attack":0,"No defense":98.6,"Defense plaintext":9.2,"EIFFeL":1.6},
{"x":110,"t":"Backdoor task","No attack":0,"No defense":98.0,"Defense plaintext":6.8,"EIFFeL":0.6},
{"x":120,"t":"Backdoor task","No attack":0,"No defense":98.4,"Defense plaintext":6.8,"EIFFeL":5.3},
{"x":130,"t":"Backdoor task","No attack":0,"No defense":99.0,"Defense plaintext":8.2,"EIFFeL":6.8},
{"x":140,"t":"Backdoor task","No attack":0,"No defense":99.0,"Defense plaintext":10.5,"EIFFeL":7.4},
{"x":150,"t":"Backdoor task","No attack":0,"No defense":99.0,"Defense plaintext":3.3,"EIFFeL":4.7},
{"x":160,"t":"Backdoor task","No attack":0,"No defense":98.4,"Defense plaintext":4.1,"EIFFeL":7.4},
{"x":170,"t":"Backdoor task","No attack":0,"No defense":99.0,"Defense plaintext":2.7,"EIFFeL":3.1},
{"x":180,"t":"Backdoor task","No attack":0,"No defense":98.8,"Defense plaintext":5.7,"EIFFeL":4.7},
{"x":190,"t":"Backdoor task","No attack":0,"No defense":98.6,"Defense plaintext":4.7,"EIFFeL":4.1},
{"x":200,"t":"Backdoor task","No attack":0,"No defense":98.0,"Defense plaintext":3.7,"EIFFeL":3.3},
{"x":210,"t":"Backdoor task","No attack":0,"No defense":98.2,"Defense plaintext":2.7,"EIFFeL":4.1},
{"x":220,"t":"Backdoor task","No attack":0,"No defense":98.5,"Defense plaintext":3.7,"EIFFeL":2.7},
{"x":230,"t":"Backdoor task","No attack":0,"No defense":98.8,"Defense plaintext":0.6,"EIFFeL":1.6},
{"x":240,"t":"Backdoor task","No attack":0,"No defense":98.8,"Defense plaintext":3.7,"EIFFeL":3.7},
{"x":250,"t":"Backdoor task","No attack":0,"No defense":98.8,"Defense plaintext":5.3,"EIFFeL":2.7},
{"x":260,"t":"Backdoor task","No attack":0,"No defense":99.0,"Defense plaintext":4.1,"EIFFeL":0.6},
{"x":270,"t":"Backdoor task","No attack":0,"No defense":99.2,"Defense plaintext":1.6,"EIFFeL":1.0},
{"x":280,"t":"Backdoor task","No attack":0,"No defense":99.3,"Defense plaintext":0.6,"EIFFeL":3.7},
{"x":290,"t":"Backdoor task","No attack":0,"No defense":99.6,"Defense plaintext":0.6,"EIFFeL":7.4},
{"x":300,"t":"Backdoor task","No attack":0,"No defense":99.4,"Defense plaintext":1.6,"EIFFeL":2.7},
{"x":310,"t":"Backdoor task","No attack":0,"No defense":99.2,"Defense plaintext":3.7,"EIFFeL":3.7},
{"x":320,"t":"Backdoor task","No attack":0,"No defense":99.4,"Defense plaintext":3.3,"EIFFeL":3.3},
{"x":330,"t":"Backdoor task","No attack":0,"No defense":99.4,"Defense plaintext":5.3,"EIFFeL":2.7},
{"x":340,"t":"Backdoor task","No attack":0,"No defense":99.6,"Defense plaintext":3.3,"EIFFeL":1.6},
{"x":350,"t":"Backdoor task","No attack":0,"No defense":99.4,"Defense plaintext":0.6,"EIFFeL":0.6},
{"x":360,"t":"Backdoor task","No attack":0,"No defense":99.3,"Defense plaintext":1.2,"EIFFeL":1.0},
{"x":370,"t":"Backdoor task","No attack":0,"No defense":99.5,"Defense plaintext":2.0,"EIFFeL":1.6},
{"x":380,"t":"Backdoor task","No attack":0,"No defense":99.2,"Defense plaintext":3.1,"EIFFeL":2.7},
{"x":390,"t":"Backdoor task","No attack":0,"No defense":99.4,"Defense plaintext":2.0,"EIFFeL":1.6},
{"x":400,"t":"Backdoor task","No attack":0,"No defense":99.3,"Defense plaintext":0.6,"EIFFeL":0.6},
{"x":410,"t":"Backdoor task","No attack":0,"No defense":99.5,"Defense plaintext":0.6,"EIFFeL":1.0},
{"x":420,"t":"Backdoor task","No attack":0,"No defense":99.3,"Defense plaintext":0.6,"EIFFeL":1.6},
{"x":430,"t":"Backdoor task","No attack":0,"No defense":99.4,"Defense plaintext":1.6,"EIFFeL":2.7},
{"x":440,"t":"Backdoor task","No attack":0,"No defense":99.2,"Defense plaintext":3.7,"EIFFeL":4.3},
{"x":450,"t":"Backdoor task","No attack":0,"No defense":99.3,"Defense plaintext":1.6,"EIFFeL":0.6},
{"x":460,"t":"Backdoor task","No attack":0,"No defense":99.0,"Defense plaintext":3.7,"EIFFeL":1.0},
{"x":470,"t":"Backdoor task","No attack":0,"No defense":99.2,"Defense plaintext":4.7,"EIFFeL":1.6},
{"x":480,"t":"Backdoor task","No attack":0,"No defense":99.3,"Defense plaintext":6.8,"EIFFeL":2.7},
{"x":490,"t":"Backdoor task","No attack":0,"No defense":99.4,"Defense plaintext":5.7,"EIFFeL":3.3},
{"x":500,"t":"Backdoor task","No attack":0,"No defense":99.6,"Defense plaintext":1.0,"EIFFeL":1.0}
],
"h": [
{"x":10,"t":"Main task","No attack":24.5,"No defense":19.5,"Defense plaintext":24.5,"EIFFeL":13.5},
{"x":20,"t":"Main task","No attack":26.0,"No defense":22.0,"Defense plaintext":23.5,"EIFFeL":16.0},
{"x":40,"t":"Main task","No attack":30.5,"No defense":27.5,"Defense plaintext":27.5,"EIFFeL":22.5},
{"x":60,"t":"Main task","No attack":37.5,"No defense":34.0,"Defense plaintext":31.5,"EIFFeL":29.5},
{"x":80,"t":"Main task","No attack":44.0,"No defense":40.0,"Defense plaintext":38.0,"EIFFeL":35.0},
{"x":100,"t":"Main task","No attack":47.7,"No defense":44.7,"Defense plaintext":44.7,"EIFFeL":32.0},
{"x":120,"t":"Main task","No attack":52.0,"No defense":49.0,"Defense plaintext":50.0,"EIFFeL":44.0},
{"x":140,"t":"Main task","No attack":60.0,"No defense":53.5,"Defense plaintext":54.0,"EIFFeL":49.0},
{"x":160,"t":"Main task","No attack":66.0,"No defense":58.0,"Defense plaintext":60.0,"EIFFeL":56.0},
{"x":180,"t":"Main task","No attack":67.5,"No defense":61.5,"Defense plaintext":64.5,"EIFFeL":59.0},
{"x":200,"t":"Main task","No attack":70.8,"No defense":64.8,"Defense plaintext":67.8,"EIFFeL":61.8},
{"x":220,"t":"Main task","No attack":74.0,"No defense":68.0,"Defense plaintext":71.0,"EIFFeL":65.0},
{"x":240,"t":"Main task","No attack":75.5,"No defense":70.0,"Defense plaintext":72.0,"EIFFeL":67.5},
{"x":260,"t":"Main task","No attack":75.5,"No defense":71.5,"Defense plaintext":73.0,"EIFFeL":69.0},
{"x":280,"t":"Main task","No attack":78.5,"No defense":73.5,"Defense plaintext":76.0,"EIFFeL":71.0},
{"x":300,"t":"Main task","No attack":82.3,"No defense":75.9,"Defense plaintext":78.9,"EIFFeL":72.8},
{"x":320,"t":"Main task","No attack":85.5,"No defense":79.5,"Defense plaintext":82.5,"EIFFeL":74.8},
{"x":340,"t":"Main task","No attack":86.3,"No defense":80.5,"Defense plaintext":84.0,"EIFFeL":76.5},
{"x":360,"t":"Main task","No attack":86.8,"No defense":81.5,"Defense plaintext":84.8,"EIFFeL":78.5},
{"x":380,"t":"Main task","No attack":87.4,"No defense":82.7,"Defense plaintext":85.8,"EIFFeL":80.0},
{"x":400,"t":"Main task","No attack":87.9,"No defense":83.9,"Defense plaintext":86.9,"EIFFeL":80.9},
{"x":420,"t":"Main task","No attack":88.3,"No defense":84.5,"Defense plaintext":87.3,"EIFFeL":81.2},
{"x":440,"t":"Main task","No attack":88.6,"No defense":85.0,"Defense plaintext":87.6,"EIFFeL":81.4},
{"x":460,"t":"Main task","No attack":89.0,"No defense":85.3,"Defense plaintext":87.8,"EIFFeL":81.5},
{"x":480,"t":"Main task","No attack":89.2,"No defense":85.6,"Defense plaintext":88.0,"EIFFeL":81.5},
{"x":500,"t":"Main task","No attack":89.5,"No defense":85.9,"Defense plaintext":88.3,"EIFFeL":81.5},
{"x":520,"t":"Main task","No attack":89.7,"No defense":86.0,"Defense plaintext":88.3,"EIFFeL":81.6},
{"x":540,"t":"Main task","No attack":89.9,"No defense":86.2,"Defense plaintext":88.3,"EIFFeL":81.7},
{"x":560,"t":"Main task","No attack":90.0,"No defense":86.3,"Defense plaintext":88.3,"EIFFeL":81.8},
{"x":580,"t":"Main task","No attack":90.2,"No defense":86.4,"Defense plaintext":88.3,"EIFFeL":81.9},
{"x":600,"t":"Main task","No attack":90.3,"No defense":86.5,"Defense plaintext":88.3,"EIFFeL":81.9},
{"x":620,"t":"Main task","No attack":90.4,"No defense":86.6,"Defense plaintext":88.3,"EIFFeL":82.0},
{"x":640,"t":"Main task","No attack":90.5,"No defense":86.7,"Defense plaintext":88.3,"EIFFeL":82.1},
{"x":660,"t":"Main task","No attack":90.6,"No defense":86.8,"Defense plaintext":88.3,"EIFFeL":82.2},
{"x":680,"t":"Main task","No attack":90.7,"No defense":86.9,"Defense plaintext":88.3,"EIFFeL":82.2},
{"x":700,"t":"Main task","No attack":90.9,"No defense":86.9,"Defense plaintext":88.3,"EIFFeL":82.3},
{"x":720,"t":"Main task","No attack":90.9,"No defense":87.0,"Defense plaintext":88.4,"EIFFeL":82.3},
{"x":740,"t":"Main task","No attack":90.9,"No defense":87.0,"Defense plaintext":88.5,"EIFFeL":82.3},
{"x":760,"t":"Main task","No attack":90.9,"No defense":87.0,"Defense plaintext":88.6,"EIFFeL":82.3},
{"x":780,"t":"Main task","No attack":90.9,"No defense":87.1,"Defense plaintext":88.7,"EIFFeL":82.3},
{"x":800,"t":"Main task","No attack":90.9,"No defense":87.2,"Defense plaintext":88.9,"EIFFeL":82.3},
{"x":820,"t":"Main task","No attack":91.0,"No defense":87.3,"Defense plaintext":89.0,"EIFFeL":82.4},
{"x":840,"t":"Main task","No attack":91.1,"No defense":87.4,"Defense plaintext":89.1,"EIFFeL":82.5},
{"x":860,"t":"Main task","No attack":91.2,"No defense":87.6,"Defense plaintext":89.2,"EIFFeL":82.6},
{"x":880,"t":"Main task","No attack":91.3,"No defense":87.7,"Defense plaintext":89.4,"EIFFeL":82.8},
{"x":900,"t":"Main task","No attack":91.3,"No defense":87.9,"Defense plaintext":89.5,"EIFFeL":82.9},
{"x":920,"t":"Main task","No attack":91.2,"No defense":87.9,"Defense plaintext":89.3,"EIFFeL":82.8},
{"x":940,"t":"Main task","No attack":91.0,"No defense":87.9,"Defense plaintext":89.0,"EIFFeL":82.7},
{"x":960,"t":"Main task","No attack":90.8,"No defense":87.9,"Defense plaintext":88.8,"EIFFeL":82.6},
{"x":980,"t":"Main task","No attack":90.6,"No defense":87.9,"Defense plaintext":88.5,"EIFFeL":82.5},
{"x":1000,"t":"Main task","No attack":90.5,"No defense":87.9,"Defense plaintext":88.3,"EIFFeL":82.5},
{"x":10,"t":"Backdoor task","No defense":88.9,"Defense plaintext":2.8,"EIFFeL":5.4},
{"x":20,"t":"Backdoor task","No defense":89.9,"Defense plaintext":3.0,"EIFFeL":5.5},
{"x":40,"t":"Backdoor task","No defense":87.9,"Defense plaintext":3.0,"EIFFeL":6.0},
{"x":60,"t":"Backdoor task","No defense":87.9,"Defense plaintext":3.2,"EIFFeL":6.8},
{"x":80,"t":"Backdoor task","No defense":80.9,"Defense plaintext":3.2,"EIFFeL":6.5},
{"x":100,"t":"Backdoor task","No defense":79.3,"Defense plaintext":3.4,"EIFFeL":7.0},
{"x":120,"t":"Backdoor task","No defense":85.0,"Defense plaintext":3.2,"EIFFeL":6.6},
{"x":140,"t":"Backdoor task","No defense":88.5,"Defense plaintext":3.6,"EIFFeL":7.0},
{"x":160,"t":"Backdoor task","No defense":88.3,"Defense plaintext":4.0,"EIFFeL":7.2},
{"x":180,"t":"Backdoor task","No defense":92.0,"Defense plaintext":4.4,"EIFFeL":7.4},
{"x":200,"t":"Backdoor task","No defense":91.5,"Defense plaintext":5.4,"EIFFeL":7.8},
{"x":220,"t":"Backdoor task","No defense":94.0,"Defense plaintext":5.6,"EIFFeL":7.6},
{"x":240,"t":"Backdoor task","No defense":94.0,"Defense plaintext":3.4,"EIFFeL":7.6},
{"x":260,"t":"Backdoor task","No defense":93.5,"Defense plaintext":3.4,"EIFFeL":7.8},
{"x":280,"t":"Backdoor task","No defense":93.8,"Defense plaintext":4.0,"EIFFeL":8.2},
{"x":300,"t":"Backdoor task","No defense":93.4,"Defense plaintext":4.4,"EIFFeL":9.1},
{"x":320,"t":"Backdoor task","No defense":94.2,"Defense plaintext":4.0,"EIFFeL":7.0},
{"x":340,"t":"Backdoor task","No defense":96.4,"Defense plaintext":4.6,"EIFFeL":9.5},
{"x":360,"t":"Backdoor task","No defense":94.4,"Defense plaintext":6.4,"EIFFeL":8.5},
{"x":380,"t":"Backdoor task","No defense":94.4,"Defense plaintext":3.6,"EIFFeL":7.5},
{"x":400,"t":"Backdoor task","No defense":94.4,"Defense plaintext":3.4,"EIFFeL":7.4},
{"x":420,"t":"Backdoor task","No defense":95.0,"Defense plaintext":3.8,"EIFFeL":7.4},
{"x":440,"t":"Backdoor task","No defense":95.4,"Defense plaintext":4.0,"EIFFeL":7.0},
{"x":460,"t":"Backdoor task","No defense":96.0,"Defense plaintext":4.4,"EIFFeL":6.5},
{"x":480,"t":"Backdoor task","No defense":96.5,"Defense plaintext":4.4,"EIFFeL":6.2},
{"x":500,"t":"Backdoor task","No defense":97.0,"Defense plaintext":4.4,"EIFFeL":6.0},
{"x":520,"t":"Backdoor task","No defense":98.0,"Defense plaintext":2.0,"EIFFeL":5.8},
{"x":540,"t":"Backdoor task","No defense":99.0,"Defense plaintext":4.4,"EIFFeL":5.5},
{"x":560,"t":"Backdoor task","No defense":99.6,"Defense plaintext":4.2,"EIFFeL":5.6},
{"x":580,"t":"Backdoor task","No defense":99.8,"Defense plaintext":4.2,"EIFFeL":6.0},
{"x":600,"t":"Backdoor task","No defense":100.0,"Defense plaintext":4.0,"EIFFeL":7.0},
{"x":620,"t":"Backdoor task","No defense":99.8,"Defense plaintext":3.8,"EIFFeL":6.8},
{"x":640,"t":"Backdoor task","No defense":99.2,"Defense plaintext":3.8,"EIFFeL":6.5},
{"x":660,"t":"Backdoor task","No defense":99.4,"Defense plaintext":3.8,"EIFFeL":6.2},
{"x":680,"t":"Backdoor task","No defense":99.0,"Defense plaintext":3.8,"EIFFeL":6.5},
{"x":700,"t":"Backdoor task","No defense":98.8,"Defense plaintext":4.0,"EIFFeL":7.0},
{"x":720,"t":"Backdoor task","No defense":98.6,"Defense plaintext":3.8,"EIFFeL":6.0},
{"x":740,"t":"Backdoor task","No defense":99.2,"Defense plaintext":3.5,"EIFFeL":5.8},
{"x":760,"t":"Backdoor task","No defense":99.6,"Defense plaintext":3.2,"EIFFeL":5.6},
{"x":780,"t":"Backdoor task","No defense":99.8,"Defense plaintext":3.0,"EIFFeL":5.4},
{"x":800,"t":"Backdoor task","No defense":100.0,"Defense plaintext":2.4,"EIFFeL":5.4},
{"x":820,"t":"Backdoor task","No defense":99.8,"Defense plaintext":2.2,"EIFFeL":5.8},
{"x":840,"t":"Backdoor task","No defense":99.6,"Defense plaintext":2.0,"EIFFeL":6.2},
{"x":860,"t":"Backdoor task","No defense":99.8,"Defense plaintext":1.8,"EIFFeL":6.8},
{"x":880,"t":"Backdoor task","No defense":97.6,"Defense plaintext":1.6,"EIFFeL":7.0},
{"x":900,"t":"Backdoor task","No defense":97.8,"Defense plaintext":1.4,"EIFFeL":5.4},
{"x":920,"t":"Backdoor task","No defense":98.4,"Defense plaintext":1.5,"EIFFeL":5.2},
{"x":940,"t":"Backdoor task","No defense":98.8,"Defense plaintext":1.6,"EIFFeL":5.4},
{"x":960,"t":"Backdoor task","No defense":99.3,"Defense plaintext":1.5,"EIFFeL":5.3},
{"x":980,"t":"Backdoor task","No defense":99.8,"Defense plaintext":1.4,"EIFFeL":5.4},
{"x":1000,"t":"Backdoor task","No defense":100.0,"Defense plaintext":1.4,"EIFFeL":5.4}
]
},
"concat": [
{
"width": 242, "height": 181,
"data": {"name": "a"},
"transform": [{"fold": ["No attack","No defense","Defense plaintext","EIFFeL"], "as": ["s","acc"]}],
"mark": {"type": "line", "strokeWidth": 2, "clip": true},
"encoding": {
"x": {"field": "x", "type": "quantitative", "scale": {"domain": [-14.5, 524.5], "nice": false, "zero": false}, "axis": {"values": [100,200,300,400,500], "title": "Number of Iterations"}},
"y": {"field": "acc", "type": "quantitative", "scale": {"domain": [17.1, 102.3], "nice": false, "zero": false}, "axis": {"values": [20,40,60,80,100], "title": "Test Accuracy"}},
"color": {"field": "s", "type": "nominal", "scale": {"domain": ["No attack","No defense","Defense plaintext","EIFFeL"], "range": ["#228B22","#FF8C00","#1E90FF","#9400D3"]},
"legend": {"orient": "none", "legendX": 117.5, "legendY": 115, "title": null, "symbolType": "M-1.5,0H1.5", "symbolSize": 196, "symbolStrokeWidth": 2, "labelOffset": 11.5, "rowPadding": 0.6, "padding": 0, "labelFont": "DejaVu Sans", "labelFontSize": 10, "labelColor": "#000"}}
},
"title": {"text": ["(a)\u00a0\u00a0\u00a0\u00a0MNIST:\u00a0\u00a0\u00a0\u00a0Sign\u00a0\u00a0\u00a0\u00a0flip\u00a0\u00a0\u00a0attack\u00a0\u00a0\u00a0\u00a0with\u00a0\u00a0\u00a0norm", "ball validation predicate (defense)."], "dx": -68}
},
{
"width": 240, "height": 181,
"data": {"name": "b"},
"transform": [{"fold": ["No attack","No defense","Defense plaintext","EIFFeL"], "as": ["s","acc"]}],
"mark": {"type": "line", "strokeWidth": 2, "clip": true},
"encoding": {
"x": {"field": "x", "type": "quantitative", "scale": {"domain": [-14.5, 524.5], "nice": false, "zero": false}, "axis": {"values": [100,200,300,400,500], "title": "Number of Iterations"}},
"y": {"field": "acc", "type": "quantitative", "scale": {"domain": [21.0, 102.4], "nice": false, "zero": false}, "axis": {"values": [40,60,80,100], "title": "Test Accuracy"}},
"color": {"field": "s", "type": "nominal", "scale": {"domain": ["No attack","No defense","Defense plaintext","EIFFeL"], "range": ["#228B22","#FF8C00","#1E90FF","#9400D3"]}, "legend": null}
},
"title": {"text": ["(b)\u00a0\u00a0\u00a0\u00a0\u00a0MNIST:\u00a0\u00a0\u00a0\u00a0\u00a0Scaling\u00a0\u00a0\u00a0\u00a0attack\u00a0\u00a0\u00a0\u00a0and\u00a0\u00a0\u00a0\u00a0cosine", "\u200b\u00a0\u00a0\u00a0\u00a0\u00a0\u00a0\u00a0similarity validation predicate."], "dx": -60}
},
{
"width": 244, "height": 181,
"data": {"name": "c"},
"transform": [{"fold": ["No attack","No defense","Defense plaintext","EIFFeL"], "as": ["s","acc"]}],
"mark": {"type": "line", "strokeWidth": 2, "clip": true},
"encoding": {
"x": {"field": "x", "type": "quantitative", "scale": {"domain": [-14.5, 524.5], "nice": false, "zero": false}, "axis": {"values": [100,200,300,400,500], "title": "Number of Iterations"}},
"y": {"field": "acc", "type": "quantitative", "scale": {"domain": [5.9, 93.1], "nice": false, "zero": false}, "axis": {"values": [20,40,60,80], "title": "Test Accuracy"}},
"color": {"field": "s", "type": "nominal", "scale": {"domain": ["No attack","No defense","Defense plaintext","EIFFeL"], "range": ["#228B22","#FF8C00","#1E90FF","#9400D3"]}, "legend": null}
},
"title": {"text": ["(c)\u00a0\u00a0\u00a0\u00a0FMNIST:\u00a0\u00a0\u00a0\u00a0Additive\u00a0\u00a0\u00a0noise\u00a0\u00a0\u00a0attack\u00a0\u00a0\u00a0with", "Zeno++ validation predicate."], "dx": -51}
},
{
"width": 246, "height": 181,
"data": {"name": "d"},
"transform": [{"fold": ["No attack","No defense","Defense plaintext","EIFFeL"], "as": ["s","acc"]}],
"mark": {"type": "line", "strokeWidth": 2, "clip": true},
"encoding": {
"x": {"field": "x", "type": "quantitative", "scale": {"domain": [-14.5, 524.5], "nice": false, "zero": false}, "axis": {"values": [100,200,300,400,500], "title": "Number of Iterations"}},
"y": {"field": "acc", "type": "quantitative", "scale": {"domain": [5.5, 92.5], "nice": false, "zero": false}, "axis": {"values": [20,40,60,80], "title": "Test Accuracy"}},
"color": {"field": "s", "type": "nominal", "scale": {"domain": ["No attack","No defense","Defense plaintext","EIFFeL"], "range": ["#228B22","#FF8C00","#1E90FF","#9400D3"]}, "legend": null}
},
"title": {"text": ["(d)\u00a0\u00a0\u00a0FMNIST:\u00a0\u00a0\u00a0Sign\u00a0\u00a0\u00a0flip\u00a0\u00a0attack\u00a0\u00a0with\u00a0\u00a0norm", "\u200b\u00a0\u00a0\u00a0\u00a0\u00a0\u00a0\u00a0ball validation predicate."], "dx": -45}
},
{
"width": 238, "height": 181,
"data": {"name": "e"},
"transform": [{"fold": ["No attack","No defense","Defense plaintext","EIFFeL"], "as": ["s","acc"]}],
"mark": {"type": "line", "strokeWidth": 2, "clip": true},
"encoding": {
"x": {"field": "x", "type": "quantitative", "scale": {"domain": [-14.5, 524.5], "nice": false, "zero": false}, "axis": {"values": [100,200,300,400,500], "title": "Number of Iterations"}},
"y": {"field": "acc", "type": "quantitative", "scale": {"domain": [17.2, 102.3], "nice": false, "zero": false}, "axis": {"values": [20,40,60,80,100], "title": "Test Accuracy"}},
"color": {"field": "s", "type": "nominal", "scale": {"domain": ["No attack","No defense","Defense plaintext","EIFFeL"], "range": ["#228B22","#FF8C00","#1E90FF","#9400D3"]}, "legend": null}
},
"title": {"text": ["(e)\u00a0\u00a0\u00a0\u00a0\u00a0\u00a0\u00a0\u00a0MNIST:\u00a0\u00a0\u00a0\u00a0\u00a0\u00a0\u00a0Min-Max\u00a0\u00a0\u00a0\u00a0\u00a0\u00a0\u00a0attack\u00a0\u00a0\u00a0\u00a0\u00a0\u00a0\u00a0with", "Zeno++ validation predicate."], "dx": -68}
},
{
"width": 248, "height": 181,
"data": {"name": "f"},
"transform": [{"fold": ["No attack","No defense","Defense plaintext","EIFFeL"], "as": ["s","acc"]}],
"mark": {"type": "line", "strokeWidth": 2, "clip": true},
"encoding": {
"x": {"field": "x", "type": "quantitative", "scale": {"domain": [-39.5, 1049.5], "nice": false, "zero": false}, "axis": {"values": [100,300,500,700,900], "title": "Number of Iterations"}},
"y": {"field": "acc", "type": "quantitative", "scale": {"domain": [16.2, 94.3], "nice": false, "zero": false}, "axis": {"values": [20,40,60,80], "title": "Test Accuracy"}},
"color": {"field": "s", "type": "nominal", "scale": {"domain": ["No attack","No defense","Defense plaintext","EIFFeL"], "range": ["#228B22","#FF8C00","#1E90FF","#9400D3"]}, "legend": null}
},
"title": {"text": ["(f)\u00a0\u00a0\u00a0\u00a0CIFAR-10:\u00a0\u00a0\u00a0\u00a0Min-Sum\u00a0\u00a0\u00a0\u00a0attack\u00a0\u00a0\u00a0\u00a0with\u00a0\u00a0\u00a0\u00a0co-", "\u200b\u00a0\u00a0\u00a0\u00a0\u00a0\u00a0\u00a0sine similarity validation predicate."], "dx": -56}
},
{
"width": 245, "height": 181,
"data": {"name": "g"},
"layer": [
{
"transform": [{"filter": "datum.t == 'Backdoor task'"}],
"mark": {"type": "line", "strokeWidth": 2, "color": "#aaaaaa", "clip": true},
"encoding": {
"x": {"field": "x", "type": "quantitative", "scale": {"domain": [-14.5, 524.5], "nice": false, "zero": false}, "axis": {"values": [100,200,300,400,500], "title": "Number of Iterations", "labelOverlap": false}},
"y": {"field": "No attack", "type": "quantitative", "scale": {"domain": [-5, 104.6], "nice": false, "zero": false}, "axis": {"values": [0,20,40,60,80,100], "title": "Test Accuracy", "labelOverlap": false}}
}
},
{
"transform": [{"fold": ["No attack","No defense","Defense plaintext","EIFFeL"], "as": ["s","acc"]}, {"filter": "datum.t == 'Main task' || datum.s != 'No attack'"}],
"mark": {"type": "line", "clip": true},
"encoding": {
"x": {"field": "x", "type": "quantitative", "scale": {"domain": [-14.5, 524.5], "nice": false, "zero": false}, "axis": {"values": [100,200,300,400,500], "title": "Number of Iterations", "labelOverlap": false}},
"y": {"field": "acc", "type": "quantitative", "scale": {"domain": [-5, 104.6], "nice": false, "zero": false}, "axis": {"values": [0,20,40,60,80,100], "title": "Test Accuracy", "labelOverlap": false}},
"color": {"field": "s", "type": "nominal", "scale": {"domain": ["No attack","No defense","Defense plaintext","EIFFeL"], "range": ["#228B22","#FF8C00","#1E90FF","#9400D3"]}, "legend": null},
"strokeDash": {"field": "t", "type": "nominal", "scale": {"domain": ["Main task","Backdoor task"], "range": [[5.5,2.4],[1,0]]},
"legend": {"orient": "none", "legendX": 133, "legendY": 75, "title": null, "symbolType": "M-1.5,0H1.5", "symbolSize": 196, "symbolStrokeWidth": 1.5, "symbolStrokeColor": "#555555", "labelOffset": 11.5, "rowPadding": 1, "padding": 0, "labelFont": "DejaVu Sans", "labelFontSize": 10, "labelColor": "#000", "encode": {"symbols": {"update": {"stroke": {"value": "#555555"}}}}}},
"strokeWidth": {"field": "t", "type": "ordinal", "scale": {"domain": ["Main task","Backdoor task"], "range": [1.6, 2]}, "legend": null}
}
}
],
"title": {"text": ["(g)\u00a0\u00a0\u00a0\u00a0\u00a0\u00a0EMNIST:\u00a0\u00a0\u00a0\u00a0\u00a0Backdoor\u00a0\u00a0\u00a0\u00a0\u00a0Attack-1\u00a0\u00a0\u00a0\u00a0\u00a0with", "norm bound validation predicate."], "dx": -55}
},
{
"width": 241, "height": 181,
"data": {"name": "h"},
"transform": [{"fold": ["No attack","No defense","Defense plaintext","EIFFeL"], "as": ["s","acc"]}, {"filter": "isValid(datum.acc)"}],
"mark": {"type": "line", "clip": true},
"encoding": {
"x": {"field": "x", "type": "quantitative", "scale": {"domain": [-39.5, 1049.5], "nice": false, "zero": false}, "axis": {"values": [100,300,500,700,900], "title": "Number of Iterations"}},
"y": {"field": "acc", "type": "quantitative", "scale": {"domain": [-3.5, 104.9], "nice": false, "zero": false}, "axis": {"values": [0,20,40,60,80,100], "title": "Test Accuracy"}},
"color": {"field": "s", "type": "nominal", "scale": {"domain": ["No attack","No defense","Defense plaintext","EIFFeL"], "range": ["#228B22","#FF8C00","#1E90FF","#9400D3"]}, "legend": null},
"strokeDash": {"field": "t", "type": "nominal", "scale": {"domain": ["Main task","Backdoor task"], "range": [[5.5,2.4],[1,0]]}, "legend": null},
"strokeWidth": {"field": "t", "type": "ordinal", "scale": {"domain": ["Main task","Backdoor task"], "range": [1.6, 2]}, "legend": null}
},
"title": {"text": ["(h)\u00a0\u00a0\u00a0\u00a0CIFAR-10:\u00a0\u00a0\u00a0\u00a0Backdoor\u00a0\u00a0\u00a0\u00a0Attack-2\u00a0\u00a0\u00a0\u00a0with", "\u200b\u00a0\u00a0\u00a0\u00a0\u00a0\u00a0\u00a0norm bound validation predicate."], "dx": -50}
}
],
"resolve": {
"scale": {"x": "independent", "y": "independent", "color": "independent", "strokeDash": "independent", "strokeWidth": "independent"},
"axis": {"x": "independent", "y": "independent"},
"legend": {"color": "independent", "strokeDash": "independent", "strokeWidth": "independent"}
},
"config": {
"view": {"stroke": "#000", "strokeWidth": 1},
"axis": {"grid": false, "domain": false, "ticks": true, "tickColor": "#000", "tickSize": 2.5, "tickWidth": 0.8, "labelFont": "DejaVu Sans", "labelFontSize": 11, "labelColor": "#000", "labelPadding": 1.5, "labelFlush": false, "labelOverlap": false, "titleFont": "DejaVu Sans", "titleFontSize": 13.5, "titleFontWeight": "normal", "titleColor": "#000"},
"axisX": {"titlePadding": 1},
"axisY": {"titlePadding": 3},
"title": {"orient": "bottom", "anchor": "start", "frame": "group", "font": "Liberation Serif", "fontSize": 16, "fontWeight": "bold", "lineHeight": 20, "color": "#000", "offset": 15}
}
}
